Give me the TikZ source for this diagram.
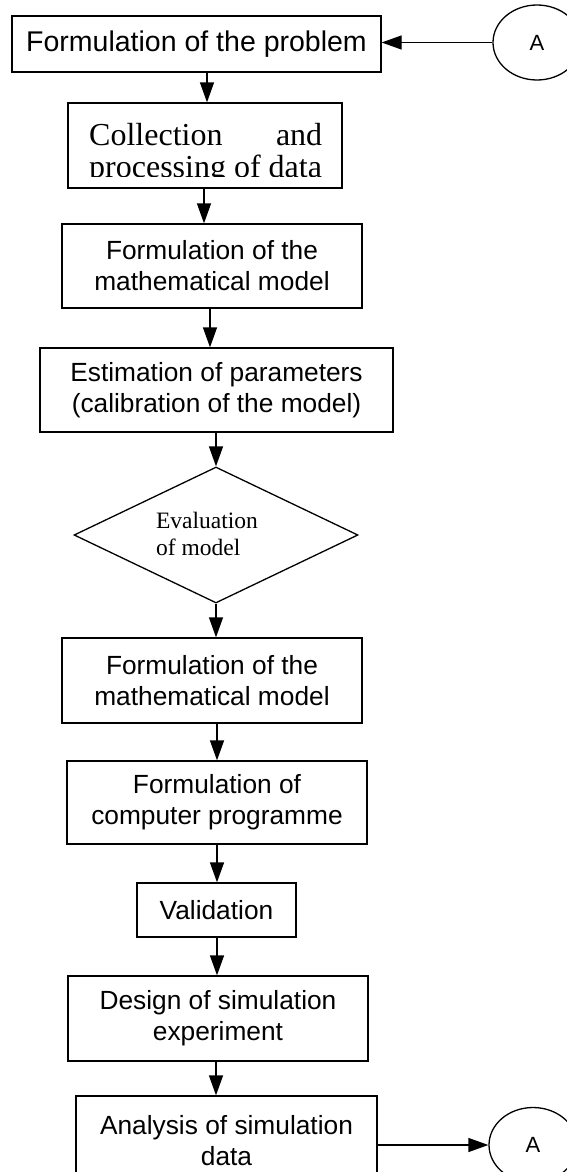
\documentclass[tikz,border=0pt]{standalone}
\usepackage{fontspec}
\newfontfamily\arialf{Liberation Sans}
\newfontfamily\timesf{Liberation Serif}
\usetikzlibrary{arrows.meta,shapes.geometric}
\begin{document}
\begin{tikzpicture}[x=1pt,y=-1pt,
  box/.style={draw, line width=1.3pt, rectangle, inner sep=0pt, align=center,
    font=\arialf\fontsize{26.3}{31}\selectfont},
  arr/.style={draw, line width=1.3pt, -{Triangle[length=20pt,width=14pt]}},
  conn/.style={draw, ellipse, line width=1.3pt, minimum width=88pt,
    minimum height=75pt, inner sep=0pt, font=\arialf\fontsize{22}{26}\selectfont},
  serifline/.style={anchor=base west, inner sep=0pt,
    font=\timesf\fontsize{32}{38}\selectfont},
]
\useasboundingbox (0,0) rectangle (567,1172);
\clip (0,0) rectangle (567,1172);

% boxes
\node[box, minimum width=369pt, minimum height=56pt,
  font=\arialf\fontsize{28.5}{33}\selectfont] (b1) at (196.5,44) {Formulation of the problem};
\node[conn] (A1) at (537,42.5) {A};

\node[box, minimum width=274pt, minimum height=85pt] (b2) at (205,145.5) {};
\begin{scope}
  \clip (68,103) rectangle (342,176);
  \node[serifline] (b2a) at (89,145) {\makebox[233pt][l]{Collection\hfill and}};
  \node[serifline] (b2b) at (89,177) {processing of data};
\end{scope}

\node[box, minimum width=300pt, minimum height=84pt] (b3) at (212,266)
  {Formulation of the\\mathematical model};
\node[box, minimum width=353pt, minimum height=84pt] (b4) at (216.5,390)
  {Estimation of parameters\\(calibration of the model)};

\node[draw, diamond, line width=1.3pt, inner sep=0pt, minimum width=284pt,
  minimum height=136pt] (dia) at (216,535) {};
\node[inner sep=0pt, align=left, font=\timesf\fontsize{23.5}{27}\selectfont]
  (diat) at (207,533.5) {Evaluation\\of model};

\node[box, minimum width=300pt, minimum height=85pt] (b5) at (212,680.5)
  {Formulation of the\\mathematical model};
\node[box, minimum width=300pt, minimum height=83pt] (b6) at (217,802.5)
  {Formulation of\\computer programme};
\node[box, minimum width=159pt, minimum height=54pt] (b7) at (216.5,910)
  {Validation};
\node[box, minimum width=300pt, minimum height=85pt] (b8) at (218,1018.5)
  {Design of simulation\\experiment};
\node[box, minimum width=301pt, minimum height=89pt] (b9) at (226.5,1140.5)
  {Analysis of simulation\\data};
\node[conn] (A2) at (533,1145) {A};

% arrow columns
\coordinate (v1) at (207,0);
\coordinate (v2) at (204,0);
\coordinate (v3) at (210,0);
\coordinate (v4) at (216,0);
\coordinate (v5) at (217,0);

\draw[arr] (A1.west) -- (b1.east |- A1.west);
\draw[arr] (b1.south -| v1) -- (b2.north -| v1);
\draw[arr] (b2.south -| v2) -- (b3.north -| v2);
\draw[arr] (b3.south -| v3) -- (b4.north -| v3);
\draw[arr] (b4.south -| v4) -- (dia.north);
\draw[arr] (dia.south) -- (b5.north -| v4);
\draw[arr] (b5.south -| v5) -- (b6.north -| v5);
\draw[arr] (b6.south -| v5) -- (b7.north -| v5);
\draw[arr] (b7.south -| v5) -- (b8.north -| v5);
\draw[arr] (b8.south -| v4) -- (b9.north -| v4);
\draw[arr] (b9.east |- A2.west) -- (A2.west);
\end{tikzpicture}
\end{document}
